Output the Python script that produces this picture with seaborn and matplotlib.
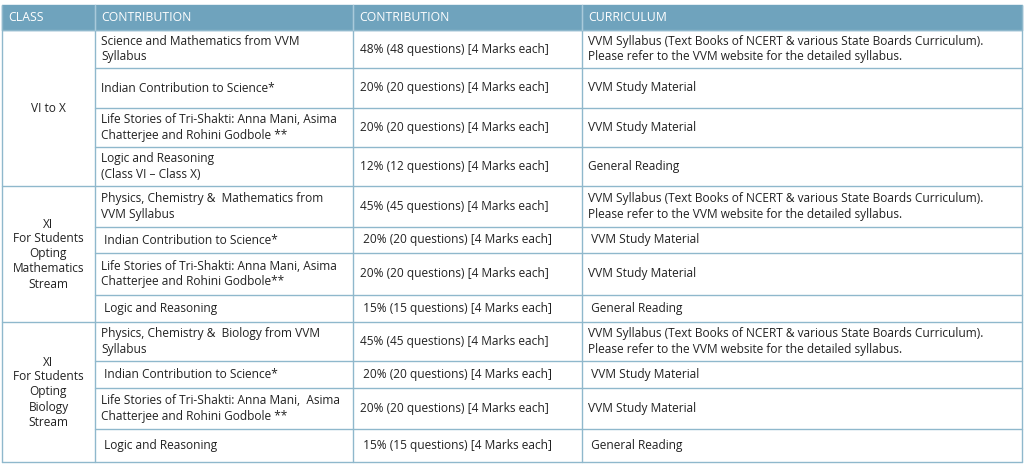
import matplotlib
matplotlib.use("Agg")
import matplotlib.pyplot as plt
import seaborn as sns

sns.set_theme(style="white")
plt.rcParams['font.family'] = ['Open Sans', 'DejaVu Sans']

headers = ["CLASS", "CONTRIBUTION", "CONTRIBUTION", "CURRICULUM"]
col_edges = [2, 95, 353, 582, 1022]
row_edges = [30, 68, 108, 147, 186, 227, 253, 295, 322, 361, 388, 429, 462]
group_edges = [30, 186, 322, 462]
classes = ["VI to X", "XI\nFor Students\nOpting\nMathematics\nStream", "XI\nFor Students\nOpting\nBiology\nStream"]
topics = [
    "Science and Mathematics from VVM\nSyllabus",
    "Indian Contribution to Science*",
    "Life Stories of Tri-Shakti: Anna Mani, Asima\nChatterjee and Rohini Godbole **",
    "Logic and Reasoning\n(Class VI \u2013 Class X)",
    "Physics, Chemistry &  Mathematics from\nVVM Syllabus",
    " Indian Contribution to Science*",
    "Life Stories of Tri-Shakti: Anna Mani, Asima\nChatterjee and Rohini Godbole**",
    " Logic and Reasoning",
    "Physics, Chemistry &  Biology from VVM\nSyllabus",
    " Indian Contribution to Science*",
    "Life Stories of Tri-Shakti: Anna Mani,  Asima\nChatterjee and Rohini Godbole **",
    " Logic and Reasoning",
]
shares = [
    "48% (48 questions) [4 Marks each]", "20% (20 questions) [4 Marks each]",
    "20% (20 questions) [4 Marks each]", "12% (12 questions) [4 Marks each]",
    "45% (45 questions) [4 Marks each]", " 20% (20 questions) [4 Marks each]",
    "20% (20 questions) [4 Marks each]", " 15% (15 questions) [4 Marks each]",
    "45% (45 questions) [4 Marks each]", " 20% (20 questions) [4 Marks each]",
    "20% (20 questions) [4 Marks each]", " 15% (15 questions) [4 Marks each]",
]
syl = "VVM Syllabus (Text Books of NCERT & various State Boards Curriculum).\nPlease refer to the VVM website for the detailed syllabus."
curriculum = [
    syl, "VVM Study Material", "VVM Study Material", "General Reading",
    syl, " VVM Study Material", "VVM Study Material", " General Reading",
    syl, " VVM Study Material", "VVM Study Material", " General Reading",
]

fig = plt.figure(figsize=(10.24, 4.67), dpi=100)
ax = fig.add_axes([0, 0, 1, 1])
ax.set_xlim(0, 1024)
ax.set_ylim(467, 0)
ax.axis("off")

hdr = "#6fa3bd"
line = "#8fb8cc"
txt = "#222222"
fs = 8.6

ax.add_patch(plt.Rectangle((col_edges[0], 5), col_edges[-1] - col_edges[0], 25, color=hdr, zorder=0))
for i, h in enumerate(headers):
    ax.text(col_edges[i] + 6, 17.5, h, color="white", fontsize=8.8, va="center", ha="left")

for y in row_edges:
    x0 = col_edges[0] if y in group_edges else col_edges[1]
    ax.plot([x0, col_edges[-1]], [y, y], color=line, lw=1)
for x in col_edges:
    ax.plot([x, x], [5, row_edges[-1]], color=line, lw=1)
for x in col_edges[1:-1]:
    ax.plot([x, x], [5, 30], color="#a9cadb", lw=1)

for g, c in enumerate(classes):
    ax.text((col_edges[0] + col_edges[1]) / 2, (group_edges[g] + group_edges[g + 1]) / 2, c,
            ha="center", va="center", fontsize=fs, color=txt, linespacing=1.2)

for r in range(len(topics)):
    yc = (row_edges[r] + row_edges[r + 1]) / 2
    ax.text(col_edges[1] + 6, yc, topics[r], ha="left", va="center", fontsize=fs, color=txt, linespacing=1.25)
    ax.text(col_edges[2] + 7, yc, shares[r], ha="left", va="center", fontsize=fs, color=txt)
    ax.text(col_edges[3] + 6, yc, curriculum[r], ha="left", va="center", fontsize=fs, color=txt, linespacing=1.25)

fig.savefig("out.png", dpi=100, facecolor="white")
